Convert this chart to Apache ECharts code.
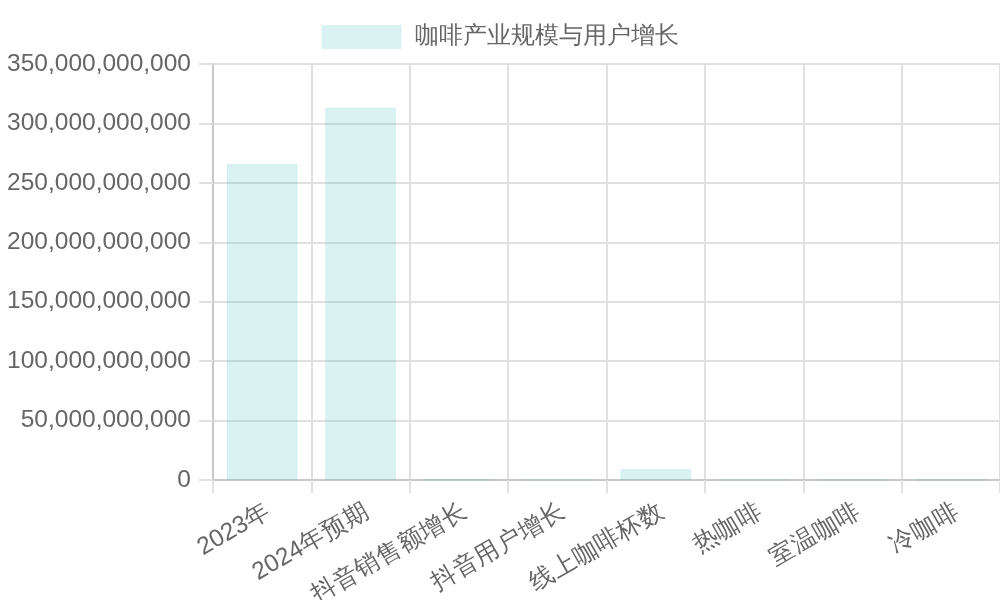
<!DOCTYPE html>
<html>
<head>
<meta charset="utf-8">
<script src="https://cdn.jsdelivr.net/npm/echarts@6/dist/echarts.min.js"></script>
<style>
  html, body { margin: 0; padding: 0; background: #fff; }
  #chart { width: 1000px; height: 600px; }
</style>
</head>
<body>
<div id="chart"></div>
<script>
// categories and values
const categories = ['2023年', '2024年预期', '抖音销售额增长', '抖音用户增长', '线上咖啡杯数', '热咖啡', '室温咖啡', '冷咖啡'];
const seriesName = '咖啡产业规模与用户增长';
const values = [265800000000, 313400000000, 300000000, 200000000, 9200000000, 200000000, 150000000, 150000000];
const yTicks = { min: 0, max: 350000000000, interval: 50000000000 };

const textColor = '#666';
const fontFamily = '"Liberation Sans", Arial, sans-serif';

function fmt(v) {
  return String(v).replace(/\B(?=(\d{3})+(?!\d))/g, ',');
}

const chart = echarts.init(document.getElementById('chart'));
chart.setOption({
  backgroundColor: '#fff',
  animation: false,
  textStyle: { fontFamily: fontFamily },
  legend: {
    top: 20,
    left: 'center',
    itemWidth: 80,
    itemHeight: 24,
    icon: 'rect',
    itemStyle: { borderWidth: 0 },
    textStyle: { color: textColor, fontSize: 23.5, fontFamily: fontFamily, padding: [0, 0, 0, 8] },
    data: [seriesName]
  },
  grid: {
    left: 213,
    right: 0,
    top: 64,
    bottom: 120,
    containLabel: false,
    outerBoundsMode: 'none'
  },
  xAxis: {
    type: 'category',
    data: categories,
    axisLine: { show: true, lineStyle: { color: '#c8c8c8', width: 2 } },
    axisTick: { show: true, length: 13, alignWithLabel: false, lineStyle: { color: '#e0e0e0', width: 2 } },
    splitLine: { show: true, lineStyle: { color: '#e0e0e0', width: 2 } },
    axisLabel: {
      color: textColor,
      fontSize: 24.5,
      rotate: 30,
      margin: 19,
      interval: 0,
      verticalAlign: 'top',
      fontFamily: fontFamily
    }
  },
  yAxis: {
    type: 'value',
    min: yTicks.min,
    max: yTicks.max,
    interval: yTicks.interval,
    axisLine: { show: true, lineStyle: { color: '#c8c8c8', width: 2 } },
    axisTick: { show: true, length: 14, lineStyle: { color: '#e0e0e0', width: 2 } },
    splitLine: { show: true, lineStyle: { color: '#e0e0e0', width: 2 } },
    axisLabel: {
      color: textColor,
      fontSize: 24.5,
      margin: 22,
      fontFamily: fontFamily,
      formatter: fmt
    }
  },
  series: [{
    name: seriesName,
    type: 'bar',
    data: values,
    barWidth: '72%',
    itemStyle: {
      color: 'rgba(75,192,192,0.2)',
      borderColor: 'rgba(75,192,192,0.12)',
      borderWidth: 1
    }
  }]
});
</script>
</body>
</html>
